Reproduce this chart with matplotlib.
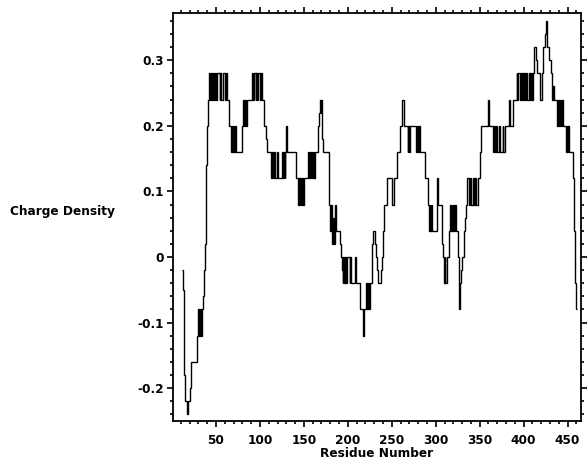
import numpy as np
import matplotlib
matplotlib.use("Agg")
import matplotlib.pyplot as plt
from matplotlib.ticker import MultipleLocator, FixedLocator

# ------------- data -------------
# one value per residue, starting at residue 11
first_residue = 11
charge = [
    -0.02, -0.05, -0.10, -0.18, -0.22, -0.22, -0.24, -0.22, -0.22, -0.20,   # 11-20
    -0.20, -0.16, -0.16, -0.16, -0.16, -0.16, -0.16, -0.12, -0.12, -0.08,   # 21-30
    -0.12, -0.08, -0.12, -0.08, -0.06, -0.02, 0.02, 0.08, 0.14, 0.20,       # 31-40
    0.24, 0.28, 0.24, 0.28, 0.24, 0.28, 0.28, 0.24, 0.28, 0.24,             # 41-50
    0.28, 0.28, 0.28, 0.24, 0.28, 0.24, 0.24, 0.28, 0.28, 0.24,             # 51-60
    0.28, 0.28, 0.24, 0.24, 0.20, 0.20, 0.16, 0.20, 0.16, 0.20,             # 61-70
    0.16, 0.20, 0.16, 0.16, 0.16, 0.16, 0.16, 0.16, 0.20, 0.20,             # 71-80
    0.24, 0.20, 0.24, 0.20, 0.24, 0.24, 0.24, 0.24, 0.24, 0.24,             # 81-90
    0.28, 0.24, 0.28, 0.28, 0.24, 0.28, 0.24, 0.28, 0.28, 0.24,             # 91-100
    0.28, 0.24, 0.24, 0.24, 0.20, 0.20, 0.18, 0.16, 0.16, 0.16,             # 101-110
    0.16, 0.16, 0.12, 0.16, 0.12, 0.16, 0.12, 0.12, 0.16, 0.12,             # 111-120
    0.12, 0.12, 0.12, 0.12, 0.16, 0.12, 0.16, 0.12, 0.16, 0.20,             # 121-130
    0.16, 0.16, 0.16, 0.16, 0.16, 0.16, 0.16, 0.16, 0.16, 0.16,             # 131-140
    0.12, 0.12, 0.08, 0.12, 0.08, 0.12, 0.08, 0.12, 0.08, 0.12,             # 141-150
    0.12, 0.12, 0.12, 0.12, 0.16, 0.12, 0.16, 0.12, 0.16, 0.12,             # 151-160
    0.16, 0.12, 0.16, 0.16, 0.16, 0.20, 0.22, 0.24, 0.22, 0.24,             # 161-170
    0.18, 0.16, 0.16, 0.16, 0.16, 0.16, 0.16, 0.12, 0.08, 0.04,             # 171-180
    0.08, 0.02, 0.06, 0.02, 0.08, 0.04, 0.04, 0.04, 0.04, 0.04,             # 181-190
    0.02, 0.00, -0.02, -0.04, 0.00, -0.04, 0.00, -0.04, 0.00, 0.00,         # 191-200
    0.00, -0.04, 0.00, -0.04, -0.04, -0.04, -0.04, 0.00, -0.04, -0.04,      # 201-210
    -0.04, -0.04, -0.04, -0.08, -0.08, -0.08, -0.12, -0.08, -0.08, -0.08,   # 211-220
    -0.04, -0.08, -0.04, -0.08, -0.04, -0.04, 0.00, 0.02, 0.04, 0.04,       # 221-230
    0.02, 0.00, -0.02, -0.04, -0.04, -0.04, -0.04, -0.02, 0.00, 0.04,       # 231-240
    0.08, 0.08, 0.08, 0.12, 0.12, 0.12, 0.12, 0.12, 0.12, 0.08,             # 241-250
    0.08, 0.12, 0.12, 0.12, 0.12, 0.16, 0.16, 0.16, 0.20, 0.20,             # 251-260
    0.20, 0.24, 0.24, 0.20, 0.20, 0.20, 0.20, 0.16, 0.20, 0.16,             # 261-270
    0.20, 0.20, 0.20, 0.20, 0.20, 0.20, 0.20, 0.16, 0.20, 0.16,             # 271-280
    0.20, 0.16, 0.16, 0.16, 0.16, 0.16, 0.16, 0.12, 0.12, 0.12,             # 281-290
    0.08, 0.04, 0.08, 0.04, 0.08, 0.04, 0.04, 0.04, 0.04, 0.04,             # 291-300
    0.08, 0.12, 0.08, 0.08, 0.08, 0.08, 0.02, 0.00, -0.04, 0.00,            # 301-310
    -0.04, -0.04, 0.00, 0.00, 0.04, 0.08, 0.04, 0.08, 0.04, 0.08,           # 311-320
    0.04, 0.08, 0.04, 0.04, 0.00, -0.04, -0.08, -0.04, -0.02, 0.00,         # 321-330
    0.00, 0.04, 0.06, 0.08, 0.08, 0.12, 0.12, 0.08, 0.12, 0.08,             # 331-340
    0.08, 0.12, 0.08, 0.08, 0.12, 0.08, 0.08, 0.12, 0.12, 0.16,             # 341-350
    0.20, 0.20, 0.20, 0.20, 0.20, 0.20, 0.20, 0.20, 0.24, 0.24,             # 351-360
    0.20, 0.20, 0.20, 0.20, 0.16, 0.20, 0.16, 0.16, 0.20, 0.16,             # 361-370
    0.16, 0.20, 0.16, 0.16, 0.16, 0.20, 0.16, 0.16, 0.20, 0.20,             # 371-380
    0.20, 0.20, 0.24, 0.20, 0.20, 0.20, 0.20, 0.24, 0.24, 0.24,             # 381-390
    0.24, 0.28, 0.24, 0.28, 0.28, 0.24, 0.28, 0.24, 0.28, 0.24,             # 391-400
    0.28, 0.24, 0.28, 0.24, 0.24, 0.28, 0.24, 0.28, 0.24, 0.24,             # 401-410
    0.28, 0.32, 0.32, 0.30, 0.28, 0.28, 0.28, 0.28, 0.24, 0.24,             # 411-420
    0.28, 0.32, 0.32, 0.34, 0.36, 0.36, 0.32, 0.32, 0.30, 0.30,             # 421-430
    0.28, 0.24, 0.24, 0.26, 0.24, 0.24, 0.24, 0.20, 0.24, 0.20,             # 431-440
    0.24, 0.20, 0.20, 0.24, 0.20, 0.20, 0.20, 0.16, 0.20, 0.16,             # 441-450
    0.20, 0.16, 0.16, 0.16, 0.16, 0.12, 0.04, 0.00, -0.04, -0.08,           # 451-460
]

x_ticks = [50, 100, 150, 200, 250, 300, 350, 400, 450]
y_ticks = [-0.2, -0.1, 0, 0.1, 0.2, 0.3]
y_tick_labels = ["-0.2", "-0.1", "0", "0.1", "0.2", "0.3"]

# ------------- figure -------------
FONT = {"family": "DejaVu Sans", "weight": "bold", "size": 8.7}

fig = plt.figure(figsize=(5.87, 4.63), dpi=100)
ax = fig.add_axes([0.2947, 0.0907, 0.6946, 0.8812])

edges = np.arange(first_residue, first_residue + len(charge) + 1)
ax.stairs(charge, edges, baseline=None, color="black", linewidth=1.0)

ax.set_xlim(1, 465)
ax.set_ylim(-0.25, 0.372)

ax.xaxis.set_major_locator(FixedLocator(x_ticks))
ax.xaxis.set_minor_locator(MultipleLocator(10))
ax.yaxis.set_major_locator(FixedLocator(y_ticks))
ax.yaxis.set_minor_locator(MultipleLocator(0.02))
ax.set_yticklabels(y_tick_labels)

ax.tick_params(which="both", direction="out", top=True, right=True,
               labeltop=False, labelright=False, width=1.2, color="black")
ax.tick_params(which="major", length=4.5)
ax.tick_params(axis="x", which="major", pad=5)
ax.tick_params(axis="y", which="major", pad=2)
ax.tick_params(which="minor", length=2.2)
for lab in ax.get_xticklabels() + ax.get_yticklabels():
    lab.set_fontproperties(FONT)

for sp in ax.spines.values():
    sp.set_linewidth(1.3)

ax.set_xlabel("Residue Number", fontdict=FONT, labelpad=0)
fig.text(0.017, 0.544, "Charge Density", ha="left", va="center", fontdict=FONT)

fig.savefig("out.png", dpi=100)
